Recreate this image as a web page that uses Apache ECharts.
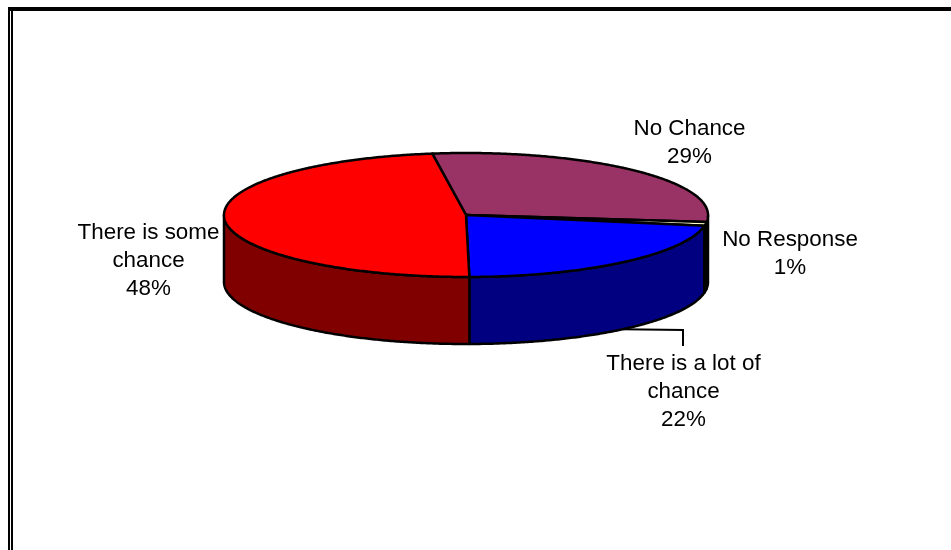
<!DOCTYPE html>
<html>
<head>
<meta charset="utf-8">
<style>html,body{margin:0;padding:0;background:#fff}#c{width:951px;height:550px}</style>
<script src="https://cdn.jsdelivr.net/npm/echarts@6/dist/echarts.min.js"></script>
</head>
<body>
<div id="c"></div>
<script>
// --- data ---
const categories = ['No Chance', 'No Response', 'There is a lot of chance', 'There is some chance'];
const labelLines = ['No Chance', 'No Response', 'There is a lot of\nchance', 'There is some\nchance'];
const values = [29, 1, 22, 48];
const topColors = ['#993366', '#FFFFCC', '#0000FF', '#FF0000'];
const sideColors = ['#4C1933', '#808066', '#000080', '#800000'];

// --- layout ---
const pie = { cx: 466, cy: 215, rx: 242, ry: 62, depth: 67, startDeg: -8 };
const labelCentres = [[689.5, 143], [790, 254], [683.5, 392], [148.5, 261]];
const leader = { index: 2, elbowX: 683, elbowY: 330, endY: 346 };
const fontFamily = '"Liberation Sans", Arial, sans-serif';
const total = values.reduce((a, b) => a + b, 0);

function pt(deg, dy) {
  const r = deg * Math.PI / 180;
  return [pie.cx + pie.rx * Math.sin(r), pie.cy - pie.ry * Math.cos(r) + (dy || 0)];
}
function arc(a, b, dy) {
  const out = [];
  const n = Math.max(2, Math.ceil(Math.abs(b - a) * 2));
  for (let i = 0; i <= n; i++) out.push(pt(a + (b - a) * i / n, dy));
  return out;
}

function renderItem(params, api) {
  const i = params.dataIndex;
  let before = 0;
  for (let k = 0; k < i; k++) before += values[k];
  const a0 = pie.startDeg + before / total * 360;
  const a1 = a0 + api.value(0) / total * 360;
  const children = [];
  const stroke = { stroke: '#000', lineWidth: 2.5, lineJoin: 'round' };

  // front wall: the part of the slice's rim between 90 and 270 degrees
  const w0 = Math.max(a0, 90), w1 = Math.min(a1, 270);
  if (w1 > w0) {
    children.push({
      type: 'polygon', z2: 1,
      shape: { points: arc(w0, w1, 0).concat(arc(w1, w0, pie.depth)) },
      style: Object.assign({ fill: sideColors[i] }, stroke)
    });
  }
  // top face
  children.push({
    type: 'polygon', z2: 2,
    shape: { points: [[pie.cx, pie.cy]].concat(arc(a0, a1, 0)) },
    style: Object.assign({ fill: topColors[i] }, stroke)
  });
  // leader line
  if (i === leader.index) {
    const mid = (a0 + a1) / 2;
    children.push({
      type: 'polyline', z2: 3,
      shape: { points: [pt(mid, pie.depth), [leader.elbowX, leader.elbowY], [leader.elbowX, leader.endY]] },
      style: { stroke: '#000', lineWidth: 2, fill: null }
    });
  }
  // label
  children.push({
    type: 'text', z2: 4,
    style: {
      text: labelLines[i] + '\n' + Math.round(api.value(0) / total * 100) + '%',
      x: labelCentres[i][0], y: labelCentres[i][1],
      align: 'center', verticalAlign: 'middle',
      font: '22.4px ' + fontFamily, lineHeight: 28, fill: '#000'
    }
  });
  return { type: 'group', children };
}

const chart = echarts.init(document.getElementById('c'), null, { renderer: 'canvas' });
chart.setOption({
  animation: false,
  backgroundColor: '#fff',
  graphic: [
    { type: 'rect', shape: { x: 8, y: 7, width: 943, height: 4 }, style: { fill: '#000' } },
    { type: 'rect', shape: { x: 8, y: 7, width: 2, height: 543 }, style: { fill: '#000' } },
    { type: 'rect', shape: { x: 11, y: 7, width: 2, height: 543 }, style: { fill: '#000' } }
  ],
  series: [{
    type: 'custom',
    coordinateSystem: 'none',
    renderItem,
    data: values.map((v, i) => ({ name: categories[i], value: [v] }))
  }]
});
</script>
</body>
</html>
